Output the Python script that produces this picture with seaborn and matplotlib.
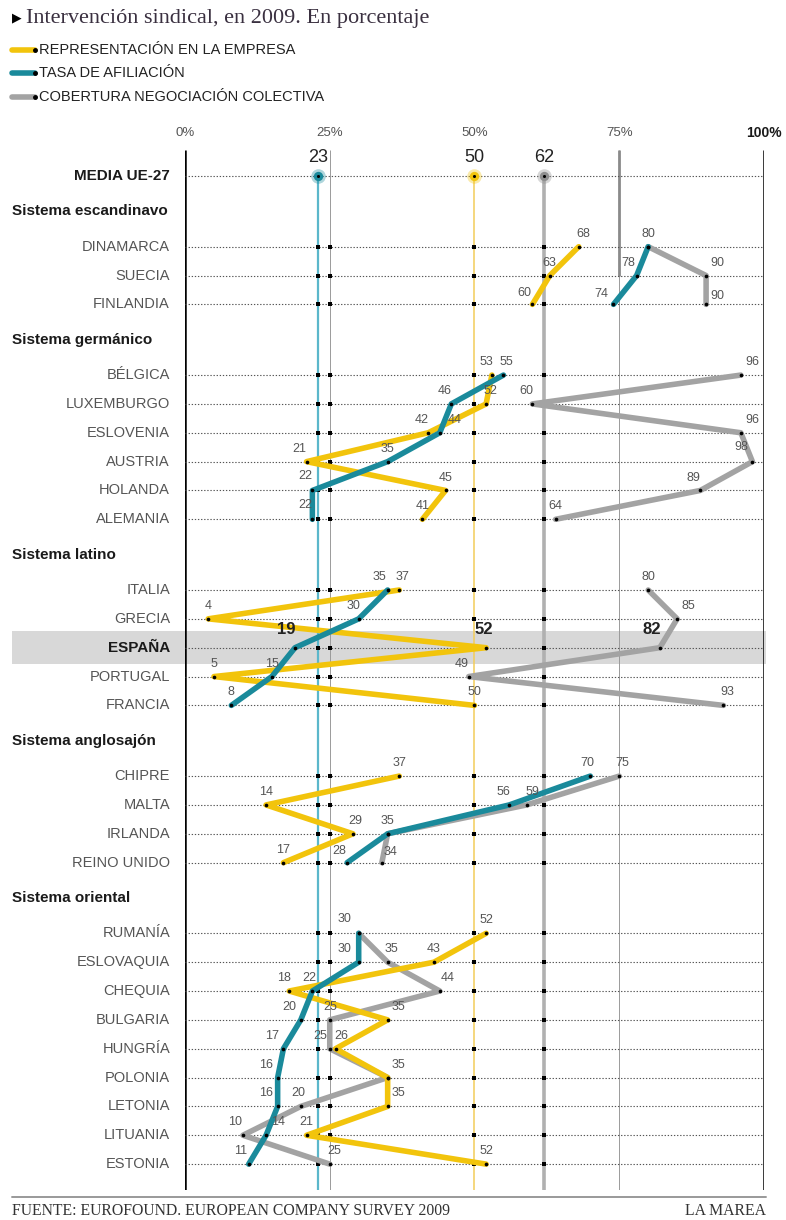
import numpy as np
import pandas as pd
import seaborn as sns
import matplotlib.pyplot as plt
from matplotlib.patches import Rectangle
from matplotlib.lines import Line2D

# datos: intervencion sindical 2009 (%)
media_repr = 50
media_afil = 23
media_cob = 62

grupos = ["Sistema escandinavo", "Sistema germánico", "Sistema latino",
          "Sistema anglosajón", "Sistema oriental"]
paises = [
    ["DINAMARCA", "SUECIA", "FINLANDIA"],
    ["BÉLGICA", "LUXEMBURGO", "ESLOVENIA", "AUSTRIA", "HOLANDA", "ALEMANIA"],
    ["ITALIA", "GRECIA", "ESPAÑA", "PORTUGAL", "FRANCIA"],
    ["CHIPRE", "MALTA", "IRLANDA", "REINO UNIDO"],
    ["RUMANÍA", "ESLOVAQUIA", "CHEQUIA", "BULGARIA", "HUNGRÍA", "POLONIA",
     "LETONIA", "LITUANIA", "ESTONIA"],
]
representacion = [[68, 63, 60], [53, 52, 42, 21, 45, 41], [37, 4, 52, 5, 50],
                  [37, 14, 29, 17], [52, 43, 18, 35, 26, 35, 35, 21, 52]]
afiliacion = [[80, 78, 74], [55, 46, 44, 35, 22, 22], [35, 30, 19, 15, 8],
              [70, 56, 35, 28], [30, 30, 22, 20, 17, 16, 16, 14, 11]]
cobertura = [[80, 90, 90], [96, 60, 96, 98, 89, 64], [80, 85, 82, 49, 93],
             [75, 59, 35, 34], [30, 35, 44, 25, 25, 35, 20, 10, 25]]

series = ["REPRESENTACIÓN EN LA EMPRESA", "TASA DE AFILIACIÓN",
          "COBERTURA NEGOCIACIÓN COLECTIVA"]

AMAR = "#F2C40C"
AZUL = "#1A8A9B"
GRIS = "#A3A3A3"
colores = {series[0]: AMAR, series[1]: AZUL, series[2]: GRIS}

sns.set_style("white")
plt.rcParams["font.family"] = ["Liberation Sans", "DejaVu Sans"]
SERIF = ["Liberation Serif", "DejaVu Serif"]

# posiciones verticales de filas (cabeceras en los huecos)
gap = 2.45
pos = 0.0
filas = []
cabeceras = []
for g, lista in zip(grupos, paises):
    cabeceras.append((g, pos + 1.22))
    pos += gap
    ps = []
    for i, p in enumerate(lista):
        if i > 0:
            pos += 1
        ps.append(pos)
    filas.append(ps)

recs = []
for gi, g in enumerate(grupos):
    for pi, p in enumerate(paises[gi]):
        for s, vals in zip(series, [representacion, afiliacion, cobertura]):
            recs.append(dict(grupo=g, pais=p, pos=filas[gi][pi], serie=s,
                             valor=vals[gi][pi]))
df = pd.DataFrame(recs)

fig = plt.figure(figsize=(7.86, 12.2), dpi=100)
W, H = 786, 1220
x0, x1 = 185, 764
ytop, ybot = 150, 1190
ax = fig.add_axes([x0 / W, 1 - ybot / H, (x1 - x0) / W, (ybot - ytop) / H])
ax.set_xlim(0, 100)
ymin_d = (ytop - 176) / 28.85
ymax_d = (ybot - 176) / 28.85
ax.set_ylim(ymax_d, ymin_d)
ax.axis("off")

todas = [0.0] + [p for ps in filas for p in ps]

# banda españa
esp = filas[2][2]
ax.add_patch(Rectangle(((12 - x0) / (x1 - x0) * 100, esp - 0.57),
                       (766 - 12) / (x1 - x0) * 100, 1.14,
                       color="#D8D8D8", lw=0, zorder=0, clip_on=False))

# lineas verticales
ax.vlines([0, 100], ymin_d, ymax_d, color="black", lw=1.8, zorder=1)
ax.vlines([25, 75], ymin_d, ymax_d, color="#9a9a9a", lw=0.7, zorder=1)
ax.vlines([75], ymin_d, filas[0][1], color="#8a8a8a", lw=2.0, zorder=1)
ax.vlines([media_afil], 0, ymax_d, color="#5BB7CB", lw=1.6, zorder=1)
ax.vlines([media_repr], 0, ymax_d, color="#F3CD5A", lw=1.1, zorder=1)
ax.vlines([media_cob], 0, ymax_d, color="#B0B0B0", lw=2.6, zorder=1)

# lineas de puntos horizontales
ax.hlines(todas, 0, 100, color="#555555", lw=0.8, linestyles=(0, (1.2, 1.6)), zorder=1.5)
for y in todas[1:]:
    ax.scatter([media_afil, 25, media_repr, media_cob], [y] * 4, s=5,
               marker="s", color="black", zorder=1.6, lw=0)

# series
sns.lineplot(data=df, x="valor", y="pos", hue="serie", units="grupo",
             estimator=None, sort=False, palette=colores,
             hue_order=[series[2], series[0], series[1]],
             lw=4, solid_capstyle="round", legend=False, ax=ax, zorder=3)
ax.set_xlim(0, 100)
ax.set_ylim(ymax_d, ymin_d)
sns.scatterplot(data=df, x="valor", y="pos", color="black", s=7, lw=0,
                legend=False, ax=ax, zorder=4)
ax.axis("off")

# etiquetas de valores
ajuste = {
    ("FINLANDIA", series[0]): (-6, 4), ("FINLANDIA", series[1]): (-9, 3),
    ("SUECIA", series[1]): (-6, 5), ("SUECIA", series[2]): (8, 5),
    ("FINLANDIA", series[2]): (8, 2), ("DINAMARCA", series[0]): (3, 5),
    ("BÉLGICA", series[0]): (-4, 5), ("BÉLGICA", series[1]): (2, 5),
    ("BÉLGICA", series[2]): (8, 5), ("LUXEMBURGO", series[1]): (-5, 5),
    ("LUXEMBURGO", series[0]): (3, 5), ("LUXEMBURGO", series[2]): (-4, 5),
    ("ESLOVENIA", series[0]): (-5, 5), ("ESLOVENIA", series[1]): (11, 5),
    ("ESLOVENIA", series[2]): (8, 5), ("AUSTRIA", series[0]): (-5, 5),
    ("AUSTRIA", series[2]): (-8, 6), ("HOLANDA", series[1]): (-5, 6),
    ("HOLANDA", series[2]): (-5, 5), ("ALEMANIA", series[1]): (-5, 6),
    ("ITALIA", series[1]): (-6, 5), ("ITALIA", series[0]): (2, 5),
    ("GRECIA", series[1]): (-4, 5), ("GRECIA", series[2]): (8, 5),
    ("ESPAÑA", series[1]): (-6, 8), ("ESPAÑA", series[2]): (-6, 8),
    ("ESPAÑA", series[0]): (-2, 8), ("PORTUGAL", series[2]): (-5, 5),
    ("FRANCIA", series[2]): (3, 5), ("MALTA", series[1]): (-4, 5),
    ("MALTA", series[2]): (4, 5), ("CHIPRE", series[1]): (-2, 5),
    ("CHIPRE", series[2]): (2, 5), ("REINO UNIDO", series[2]): (6, 3),
    ("REINO UNIDO", series[1]): (-6, 4), ("ESLOVAQUIA", series[1]): (-10, 5),
    ("RUMANÍA", series[1]): (-10, 6), ("ESLOVAQUIA", series[2]): (3, 5),
    ("CHEQUIA", series[0]): (-4, 5), ("CHEQUIA", series[1]): (-2, 5),
    ("CHEQUIA", series[2]): (6, 5), ("BULGARIA", series[1]): (-8, 5),
    ("BULGARIA", series[0]): (8, 5), ("HUNGRÍA", series[1]): (-8, 5),
    ("HUNGRÍA", series[2]): (-7, 5), ("HUNGRÍA", series[0]): (4, 5),
    ("POLONIA", series[1]): (-8, 5), ("POLONIA", series[0]): (8, 5),
    ("LETONIA", series[1]): (-8, 5), ("LETONIA", series[0]): (8, 5),
    ("LETONIA", series[2]): (-2, 5), ("LITUANIA", series[1]): (9, 5),
    ("LITUANIA", series[2]): (-6, 5), ("ESTONIA", series[1]): (-6, 5),
    ("ESTONIA", series[2]): (3, 5), ("IRLANDA", series[0]): (2, 5),
}
omitir = {("DINAMARCA", series[2]), ("IRLANDA", series[2]),
          ("POLONIA", series[2]), ("RUMANÍA", series[2])}
for r in df.itertuples():
    if (r.pais, r.serie) in omitir:
        continue
    dx, dy = ajuste.get((r.pais, r.serie), (0, 5))
    negrita = r.pais == "ESPAÑA"
    ax.annotate(str(r.valor), (r.valor, r.pos), xytext=(dx, dy),
                textcoords="offset points", ha="center", va="bottom",
                fontsize=12 if negrita else 9,
                fontweight="bold" if negrita else "normal",
                color="#222222" if negrita else "#555555", zorder=5)

# media UE-27
for v, c in [(media_afil, AZUL), (media_repr, AMAR), (media_cob, "#8f8f8f")]:
    ax.scatter([v], [0], s=110, color=c, alpha=0.35, lw=0, zorder=5)
    ax.scatter([v], [0], s=45, color=c, lw=0, zorder=6)
    ax.scatter([v], [0], s=5, color="black", lw=0, zorder=7)
    ax.annotate(str(v), (v, 0), xytext=(0, 7), textcoords="offset points",
                ha="center", va="bottom", fontsize=13, color="#222222")

# etiquetas de filas
def fy(y):
    return ax.transData.transform((0, y))[1] / (H)

tx = 170 / W
fig.text(tx, fy(0), "MEDIA UE-27", ha="right", va="center", fontsize=11,
         fontweight="bold", color="#1a1a1a")
for g, y in cabeceras:
    fig.text(12 / W, fy(y), g, ha="left", va="center", fontsize=11,
             fontweight="bold", color="#1a1a1a")
for gi in range(len(grupos)):
    for p, y in zip(paises[gi], filas[gi]):
        esp_b = p == "ESPAÑA"
        fig.text(tx, fy(y), p, ha="right", va="center",
                 fontsize=11 if esp_b else 10.5,
                 fontweight="bold" if esp_b else "normal",
                 color="#1a1a1a" if esp_b else "#555555")

# eje porcentual superior
for v, t in zip([0, 25, 50, 75, 100], ["0%", "25%", "50%", "75%", "100%"]):
    fig.text((x0 + v / 100 * (x1 - x0)) / W, 1 - 133 / H, t, ha="center",
             va="center", fontsize=9.5 if v < 100 else 10,
             fontweight="bold" if v == 100 else "normal",
             color="#1a1a1a" if v == 100 else "#555555")

# titulo y leyenda
fig.text(12 / W, 1 - 18 / H, "\u25B6", ha="left", va="center", fontsize=9,
         color="black", family="DejaVu Sans")
fig.text(26 / W, 1 - 18 / H, "Intervención sindical, en 2009. En porcentaje",
         ha="left", va="center", fontsize=16, color="#3a3040", family=SERIF)
for yy, s in zip([50, 73, 97], series):
    fy_ = 1 - yy / H
    fig.add_artist(Line2D([12 / W, 35 / W], [fy_, fy_], color=colores[s],
                          lw=4, solid_capstyle="round"))
    fig.add_artist(Line2D([35 / W], [fy_], marker="o", ms=2.5, color="black"))
    fig.text(39 / W, fy_, s, ha="left", va="center", fontsize=10.5,
             color="#222222")

# pie
fig.add_artist(Line2D([12 / W, 766 / W], [1 - 1197 / H] * 2, color="#999999", lw=1.4))
fig.text(12 / W, 1 - 1211 / H, "FUENTE: EUROFOUND. EUROPEAN COMPANY SURVEY 2009",
         ha="left", va="center", fontsize=11.3, color="#333333", family=SERIF)
fig.text(766 / W, 1 - 1211 / H, "LA MAREA", ha="right", va="center",
         fontsize=11.3, color="#333333", family=SERIF)

fig.savefig("out.png", dpi=100)
